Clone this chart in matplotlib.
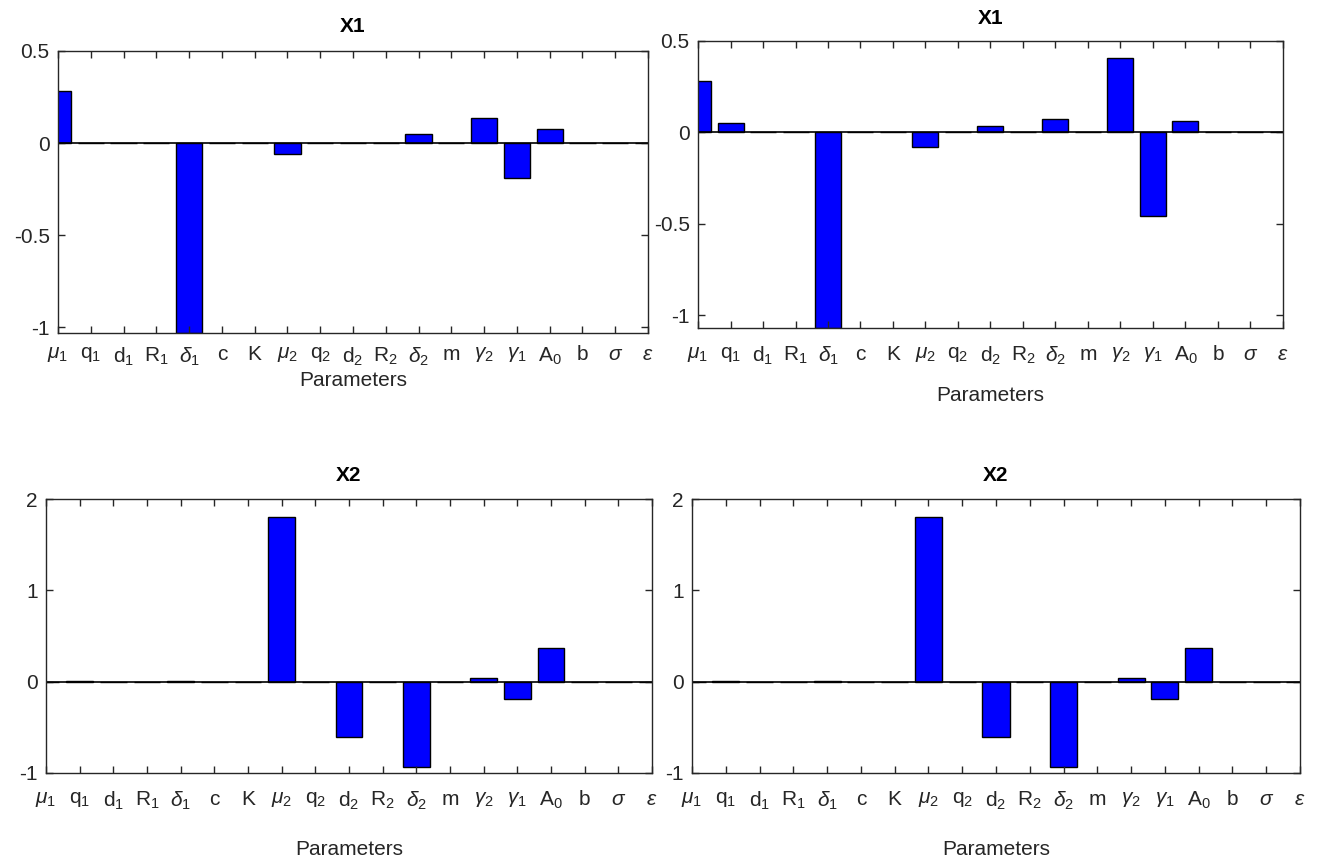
import numpy as np
import matplotlib
matplotlib.use('Agg')
from matplotlib import pyplot as plt

plt.rcParams['font.family'] = ['Liberation Sans', 'DejaVu Sans']
plt.rcParams['mathtext.fontset'] = 'custom'
plt.rcParams['mathtext.rm'] = 'Liberation Sans'
plt.rcParams['mathtext.it'] = 'Liberation Sans:italic'

# parameter names (MATLAB tex style)
params = [r'$\mu_1$', r'q$_1$', r'd$_1$', r'R$_1$', r'$\delta_1$', 'c', 'K',
          r'$\mu_2$', r'q$_2$', r'd$_2$', r'R$_2$', r'$\delta_2$', 'm',
          r'$\gamma_2$', r'$\gamma_1$', r'A$_0$', 'b', r'$\sigma$', r'$\epsilon$']

# sensitivity values
x1_left = [0.284, 0, 0, 0, -1.03, 0, 0, -0.06, 0, 0, 0, 0.047, 0,
           0.136, -0.188, 0.076, 0, 0, 0]
x1_right = [0.281, 0.053, 0, 0, -1.07, 0, 0, -0.082, 0, 0.034, 0, 0.074, 0,
            0.408, -0.458, 0.063, 0, 0, 0]
x2_left = [0, 0.01, 0, 0, 0.01, 0, 0, 1.80, 0, -0.604, 0, -0.934, 0,
           0.044, -0.194, 0.374, 0, 0, 0]
x2_right = [0, 0.01, 0, 0, 0.01, 0, 0, 1.80, 0, -0.604, 0, -0.934, 0,
            0.044, -0.194, 0.374, 0, 0, 0]

W, H = 1319, 865
fig = plt.figure(figsize=(W / 100, H / 100), dpi=100)

gray = (0.15, 0.15, 0.15)


def panel(box, vals, title, ylim, yticks, yticklabels, xpad, lpad, tpad):
    l, t, r, b = box
    ax = fig.add_axes([l / W, 1 - b / H, (r - l) / W, (b - t) / H])
    pos = np.arange(1, len(params) + 1)
    ax.bar(pos, vals, width=0.8, color='#0000ff', edgecolor='k', linewidth=1)
    ax.axhline(0, color='k', linewidth=1.2)
    ax.set_xlim(1, len(params))
    ax.set_ylim(*ylim)
    ax.set_xticks(pos)
    ax.set_xticklabels(params, fontsize=15, color=gray)
    ax.set_yticks(yticks)
    ax.set_yticklabels(yticklabels, fontsize=15, color=gray)
    ax.tick_params(direction='in', length=5, width=1, color=gray,
                   top=True, right=True, pad=6)
    ax.tick_params(axis='x', pad=xpad)
    for s in ax.spines.values():
        s.set_color(gray)
        s.set_linewidth(1)
    ax.set_title(title, fontsize=15, fontweight='bold', pad=tpad)
    ax.set_xlabel('Parameters', fontsize=15, color=gray, labelpad=lpad)
    return ax


panel((58, 51, 648, 333), x1_left, 'X1', (-1.03, 0.5), [-1, -0.5, 0, 0.5],
      ['-1', '-0.5', '0', '0.5'], 9, 2, 14)
panel((698, 41, 1283, 328), x1_right, 'X1', (-1.07, 0.5), [-1, -0.5, 0, 0.5],
      ['-1', '-0.5', '0', '0.5'], 12, 14, 12)
panel((46, 499, 652, 773), x2_left, 'X2', (-1, 2), [-1, 0, 1, 2],
      ['-1', '0', '1', '2'], 12, 20, 13)
panel((692, 499, 1300, 773), x2_right, 'X2', (-1, 2), [-1, 0, 1, 2],
      ['-1', '0', '1', '2'], 12, 20, 13)

fig.savefig('out.png', dpi=100, facecolor='white')
